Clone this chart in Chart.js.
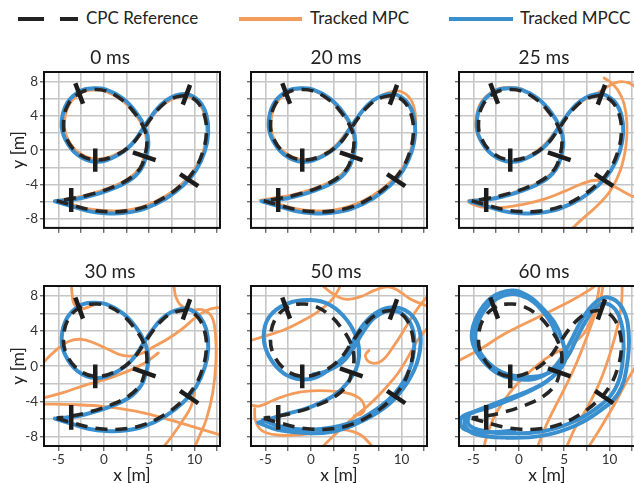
<!DOCTYPE html>
<html>
<head>
<meta charset="utf-8">
<script src="https://cdn.jsdelivr.net/npm/chart.js@4.4.1/dist/chart.umd.min.js"></script>
<style>
    html, body { margin: 0; padding: 0; background: #fff; overflow: hidden; }
    body { width: 634px; height: 483px; position: relative; font-family: Lato, "Open Sans", sans-serif; color: #222; }
    canvas { position: absolute; }
    .swatch { position: absolute; height: 4px; top: 17px; }
    .label { position: absolute; top: 7px; font-size: 17px; line-height: 22px; white-space: nowrap; }
</style>
</head>
<body>
<div class="swatch" style="left:18px;width:26px;background:#222"></div>
<div class="swatch" style="left:60px;width:18px;background:#222"></div>
<div class="label" style="left:86px">CPC Reference</div>
<div class="swatch" style="left:239px;width:63px;background:#f39c5b"></div>
<div class="label" style="left:310px">Tracked MPC</div>
<div class="swatch" style="left:449px;width:64px;background:#3a8fcf"></div>
<div class="label" style="left:520px">Tracked MPCC</div>
<script>
const FONT = "Lato, 'Open Sans', sans-serif";
const ORANGE = "#f39c5b";
const BLUE = "#3a8fcf";

// ---- data (x [m], y [m]) ----
const panelTitles = ["0 ms", "20 ms", "25 ms", "30 ms", "50 ms", "60 ms"];

const ref = [[-5.2,-5.9],[-3.5,-6.4],[-1.7,-6.9],[0.2,-7.15],[2.3,-7.1],[4.5,-6.6],[6.7,-5.5],[8.6,-4.0],[10.0,-2.3],[10.9,-0.2],[11.3,2.0],[11.1,4.0],[10.4,5.5],[9.4,6.25],[8.5,6.3],[7.4,5.95],[6.4,5.2],[5.4,4.0],[4.4,2.5],[3.1,0.7],[1.3,-0.6],[-0.9,-1.15],[-2.8,-0.4],[-4.1,1.3],[-4.45,3.2],[-3.9,5.4],[-2.5,6.75],[-1.2,7.05],[0.2,6.9],[2.0,5.85],[3.4,4.3],[4.4,2.6],[4.75,0.9],[4.5,-0.7],[4.0,-2.1],[2.7,-3.4],[0.5,-4.5],[-2.0,-5.3],[-3.9,-5.7],[-5.2,-5.9]];

const gates = [
    [[-3.6,-4.4],[-3.6,-7.2]],
    [[-0.95,0.2],[-0.95,-2.5]],
    [[3.2,-0.25],[5.7,-1.15]],
    [[8.4,-2.8],[10.4,-4.2]],
    [[9.5,7.6],[8.7,5.3]],
    [[-3.15,7.8],[-2.3,5.4]]
];

const mpccNear = [[-5.4,-5.95],[-3.5,-6.55],[-1.7,-7.1],[0.2,-7.35],[2.3,-7.3],[4.5,-6.8],[6.8,-5.65],[8.75,-4.1],[10.15,-2.35],[11.1,-0.2],[11.5,2.0],[11.3,4.1],[10.55,5.65],[9.45,6.45],[8.5,6.5],[7.35,6.1],[6.3,5.3],[5.3,4.05],[4.3,2.5],[3.0,0.6],[1.2,-0.75],[-0.9,-1.35],[-2.9,-0.55],[-4.25,1.25],[-4.65,3.2],[-4.05,5.5],[-2.6,6.9],[-1.2,7.2],[0.25,7.05],[2.1,6.0],[3.55,4.4],[4.55,2.6],[4.9,0.9],[4.65,-0.75],[4.1,-2.2],[2.8,-3.55],[0.55,-4.65],[-2.0,-5.45],[-3.9,-5.8],[-5.4,-5.95]];

const mpc0 = [[-5.3,-5.9],[-3.5,-6.35],[-1.7,-6.85],[0.2,-7.05],[2.3,-7.0],[4.5,-6.5],[6.7,-5.4],[8.6,-3.9],[10.0,-2.2],[10.95,-0.2],[11.35,2.0],[11.15,4.0],[10.45,5.5],[9.45,6.2],[8.5,6.25],[7.35,5.85],[6.3,5.05],[5.25,3.8],[4.2,2.3],[2.9,0.6],[1.1,-0.6],[-0.9,-1.05],[-2.75,-0.3],[-4.0,1.35],[-4.35,3.2],[-3.8,5.35],[-2.45,6.7],[-1.2,7.0],[0.2,6.85],[2.0,5.8],[3.4,4.25],[4.4,2.55],[4.7,0.9],[4.45,-0.7],[3.95,-2.05],[2.65,-3.35],[0.45,-4.45],[-2.0,-5.25],[-3.9,-5.65],[-5.3,-5.9]];

const mpc20 = [[-5.6,-5.85],[-3.5,-6.3],[-1.7,-6.8],[0.2,-7.05],[2.3,-7.0],[4.5,-6.45],[6.7,-5.35],[8.6,-3.85],[10.05,-2.1],[11.0,0.0],[11.5,2.2],[11.5,4.3],[11.0,5.9],[10.0,6.8],[8.8,6.8],[7.5,6.2],[6.3,5.2],[5.1,3.8],[4.0,2.2],[2.7,0.5],[1.0,-0.7],[-0.9,-1.1],[-2.75,-0.35],[-4.05,1.3],[-4.4,3.2],[-3.85,5.4],[-2.45,6.8],[-1.2,7.1],[0.25,6.95],[2.05,5.9],[3.45,4.35],[4.45,2.6],[4.8,0.9],[4.55,-0.7],[4.0,-2.1],[2.7,-3.35],[0.5,-4.4],[-2.0,-5.2],[-4.0,-5.55],[-5.6,-5.85]];

const mpc25a = [[9.3,6.6],[8.0,6.3],[6.6,5.4],[5.3,4.0],[4.1,2.3],[2.7,0.5],[0.9,-0.8],[-1.0,-1.3],[-3.0,-0.5],[-4.35,1.3],[-4.75,3.2],[-4.2,5.5],[-2.7,6.95],[-1.2,7.3],[0.3,7.1],[2.1,6.0],[3.5,4.4],[4.5,2.6],[4.85,0.9],[4.6,-0.75],[4.0,-2.2],[2.6,-3.5],[0.4,-4.6],[-2.0,-5.4],[-4.0,-5.75],[-5.6,-5.9],[-4.2,-6.6],[-2.0,-6.7],[0.5,-6.3],[2.8,-5.7],[5.0,-4.8],[7.0,-3.9],[8.5,-3.5],[9.9,-3.9],[11.3,-4.7],[12.4,-5.3],[13.2,-5.6]];
const mpc25b = [[7.4,6.0],[8.6,6.6],[9.8,7.4],[11.0,7.95],[12.2,7.8],[13.0,7.2]];
const mpc25c = [[5.6,-9.4],[7.0,-8.0],[8.6,-6.5],[10.1,-4.7],[11.2,-2.3],[11.8,0.5],[11.9,3.2],[11.6,5.4],[10.9,7.0],[10.1,7.9],[9.4,8.4]];

const mpc30a = [[-3.6,9.4],[-3.5,8.2],[-3.3,7.1],[-2.6,6.5],[-1.2,6.9]];
const mpc30b = [[7.7,9.4],[7.9,8.0],[8.5,6.9],[9.7,6.4],[10.9,6.4],[11.9,5.6],[12.3,3.6],[12.35,0.5],[12.0,-3.0],[11.3,-6.0],[10.5,-8.0],[9.9,-9.4]];
const mpc30c = [[-6.7,0.4],[-5.3,1.8],[-3.9,2.8],[-2.5,3.05],[-1.0,2.6],[0.5,1.9],[2.2,1.2],[3.8,1.3],[5.5,2.2],[7.2,3.2],[8.6,4.2],[10.2,5.6],[11.5,6.4],[12.9,6.7]];
const mpc30d = [[-6.7,-3.6],[-4.5,-3.0],[-2.2,-2.2],[0.2,-1.5],[2.3,-0.7],[4.4,0.3],[6.0,1.5]];
const mpc30e = [[-6.7,-4.3],[-3.5,-4.35],[0.4,-4.6],[3.5,-5.1],[5.9,-5.7],[9.6,-6.8],[12.9,-7.8]];
const mpc30f = [[6.4,-9.4],[7.6,-7.8],[8.8,-6.0],[9.6,-4.6],[10.0,-3.0]];

const mpcc50a = [[-5.8,-6.4],[-3.7,-7.2],[0.0,-7.6],[2.5,-7.4],[4.4,-6.8],[7.3,-5.3],[9.5,-3.4],[11.4,-0.4],[12.1,2.6],[11.7,4.9],[10.3,6.4],[8.4,6.6],[6.6,5.6],[5.1,3.7],[4.0,1.5],[2.5,0.0],[0.7,-1.2],[-1.0,-1.5],[-3.0,-0.8],[-4.6,1.1],[-5.2,3.35],[-4.6,5.6],[-2.6,7.1],[0.0,7.5],[2.2,6.9],[4.0,5.2],[5.1,3.0],[5.3,1.1],[4.75,-0.8],[2.9,-3.05],[0.0,-4.6],[-3.0,-5.5],[-5.8,-6.4]];
const mpcc50b = [[-5.3,-6.1],[-3.5,-6.8],[0.0,-7.2],[4.2,-6.5],[7.2,-4.9],[9.4,-2.9],[10.9,-0.3],[11.4,2.4],[11.1,4.6],[10.0,6.0],[8.6,6.3],[7.0,5.5],[5.7,3.8],[4.6,1.9],[3.4,0.4],[1.6,-0.6],[0.3,-0.9]];
const mpc50a = [[-6.7,2.9],[-4.8,3.5],[-3.0,4.1],[-1.0,5.1],[0.8,6.2],[2.2,7.4],[3.0,8.6],[3.3,9.4]];
const mpc50b = [[-6.7,-4.4],[-5.6,-4.5],[-4.0,-3.8],[-2.0,-3.1],[0.0,-2.8],[2.0,-2.8],[3.8,-3.0],[5.3,-3.6],[5.9,-4.6],[5.6,-5.4],[4.8,-5.6]];
const mpc50c = [[-6.2,-4.8],[-6.1,-6.2],[-5.4,-7.3],[-3.8,-7.8],[-1.5,-7.8],[1.0,-7.5],[3.4,-7.2],[5.5,-7.8],[7.0,-9.4]];
const mpc50d = [[1.0,-9.4],[2.6,-7.8],[4.5,-6.0],[6.6,-4.2],[8.3,-2.4],[9.6,-0.8],[10.8,1.2],[11.8,3.0],[12.9,4.4]];
const mpc50e = [[12.9,8.0],[11.8,6.6],[10.5,4.5],[9.2,2.4],[7.8,0.6],[6.6,0.4],[6.0,1.2],[6.4,1.8]];
const mpc50f = [[1.0,9.4],[2.3,8.3],[3.8,7.6],[5.5,7.9],[7.0,8.6],[8.5,9.0],[9.6,8.6],[11.0,7.6],[12.9,6.8]];

const mpcc60a = [[-5.9,-5.6],[-5.95,-6.75],[-4.8,-7.7],[-1.5,-8.1],[2.5,-7.9],[6.2,-6.75],[9.15,-4.9],[11.0,-3.0],[11.9,0.0],[12.1,3.8],[11.4,6.6],[9.9,7.8],[8.4,7.2],[6.95,5.3],[5.8,3.0],[4.6,0.8],[3.3,-0.7],[1.4,-1.5],[-1.1,-1.3],[-3.0,-0.35],[-4.6,1.5],[-5.2,3.4],[-4.6,5.7],[-3.0,7.8],[-0.8,8.6],[1.0,8.0],[2.4,6.8],[3.9,5.0],[4.75,3.05],[5.1,0.8],[4.3,-0.6],[2.8,-1.9],[0.6,-3.0],[-1.8,-3.9],[-4.3,-4.9],[-5.9,-5.6]];
const mpcc60b = [[-5.5,-5.5],[-5.6,-6.5],[-4.5,-7.2],[-1.5,-7.6],[2.5,-7.4],[6.0,-6.3],[8.9,-4.5],[10.6,-2.6],[11.4,0.2],[11.5,3.6],[10.9,6.0],[9.7,7.1],[8.5,6.7],[7.3,5.0],[6.3,3.0],[5.3,1.0],[3.8,-0.5],[1.6,-1.2],[-1.0,-1.0],[-2.8,-0.1],[-4.3,1.6],[-4.8,3.4],[-4.3,5.5],[-2.8,7.4],[-0.8,8.2],[1.0,7.7],[2.4,6.5],[3.6,4.8],[4.3,2.9]];
const mpcc60c = [[5.4,1.6],[4.8,0.1],[3.6,-1.3],[1.8,-2.5],[-0.5,-3.6],[-3.0,-4.6],[-5.3,-5.3],[-6.3,-5.8],[-6.4,-6.7],[-5.6,-7.3],[-3.5,-7.5],[-0.5,-7.3]];
const mpc60a = [[-6.7,0.6],[-4.0,2.1],[-1.7,3.6],[2.0,5.5],[5.7,7.4],[7.7,8.6],[8.6,9.3]];
const mpc60b = [[-3.9,-9.3],[-3.4,-7.5],[-2.5,-5.3],[-1.0,-3.0],[1.0,-0.8],[3.0,0.9],[5.2,2.2],[7.0,3.5],[8.0,5.5],[8.6,7.5],[8.9,9.3]];
const mpc60c = [[2.0,-9.3],[2.8,-7.2],[3.8,-5.0],[5.0,-2.6],[6.2,0.0],[7.3,2.8],[8.3,5.6],[9.0,7.6],[9.3,9.3]];
const mpc60d = [[5.2,-9.3],[6.2,-7.0],[7.6,-4.6],[9.0,-1.6],[10.1,1.6],[10.9,4.6],[11.3,7.0],[11.4,9.3]];
const mpc60e = [[7.6,-9.3],[9.0,-7.0],[10.6,-4.2],[12.0,-1.5],[13.2,0.5]];

const mpcTracks = [[mpc0], [mpc20], [mpc25a, mpc25b, mpc25c], [mpc30a, mpc30b, mpc30c, mpc30d, mpc30e, mpc30f], [mpc50a, mpc50b, mpc50c, mpc50d, mpc50e, mpc50f], [mpc60a, mpc60b, mpc60c, mpc60d, mpc60e]];
const mpccTracks = [[mpccNear], [mpccNear], [mpccNear], [mpccNear], [mpcc50a, mpcc50b], [mpcc60a, mpcc60b, mpcc60c]];

// ---- layout ----
const plotLefts = [44, 251, 459];
const plotTops = [72, 286];
const PLOT_W = 176, PLOT_H = 160, TITLE_H = 28, PAD_R = 2;

const toPts = (arr) => arr.map(([x, y]) => ({ x, y }));

const frame = {
    id: "frame",
    afterDraw: (chart) => {
        const { ctx, chartArea: a } = chart;
        ctx.save();
        ctx.strokeStyle = "#111";
        ctx.lineWidth = 2;
        ctx.strokeRect(a.left, a.top, a.right - a.left, a.bottom - a.top);
        ctx.restore();
    }
};

const trackSet = (points, color, width) => ({
    data: toPts(points),
    showLine: true,
    borderColor: color,
    borderWidth: width,
    pointRadius: 0,
    tension: 0.4,
    borderCapStyle: "round",
    borderJoinStyle: "round"
});

const makePanel = (idx) => {
    const col = idx % 3, row = Math.floor(idx / 3);
    const yW = col === 0 ? 44 : 6;
    const xH = row === 1 ? 40 : 6;
    const canvas = document.createElement("canvas");
    canvas.width = yW + PLOT_W + PAD_R;
    canvas.height = TITLE_H + PLOT_H + xH;
    canvas.style.left = (plotLefts[col] - yW) + "px";
    canvas.style.top = (plotTops[row] - TITLE_H) + "px";
    document.body.appendChild(canvas);

    const datasets = [];
    gates.forEach(g => datasets.push({ data: toPts(g), showLine: true, borderColor: "#1c1c1c", borderWidth: 4.5, pointRadius: 0 }));
    datasets.push({ data: toPts(ref), showLine: true, borderColor: "#262626", borderWidth: 3.6, borderDash: [12, 8], pointRadius: 0, tension: 0.4 });
    mpccTracks[idx].forEach(t => datasets.push(trackSet(t, BLUE, 4)));
    mpcTracks[idx].forEach(t => datasets.push(trackSet(t, ORANGE, 2.8)));

    new Chart(canvas, {
        type: "scatter",
        data: { datasets },
        options: {
            responsive: false,
            animation: false,
            layout: { padding: { left: 0, top: 0, right: PAD_R, bottom: 0 } },
            plugins: {
                legend: { display: false },
                tooltip: { enabled: false },
                title: {
                    display: true,
                    text: panelTitles[idx],
                    color: "#222",
                    font: { family: FONT, size: 19, weight: "normal", lineHeight: 1.2 },
                    padding: { top: 2, bottom: 3.2 }
                }
            },
            scales: {
                x: {
                    type: "linear",
                    min: -6.6,
                    max: 12.8,
                    border: { display: false },
                    grid: { color: "#c6c6c6", lineWidth: 1.6, tickLength: 5, tickColor: "#333", tickWidth: 1 },
                    ticks: {
                        stepSize: 2.5,
                        includeBounds: false,
                        autoSkip: false,
                        maxRotation: 0,
                        padding: 1,
                        color: "#333",
                        font: { family: FONT, size: 13.5 },
                        callback: (v) => (row === 1 && v % 5 === 0 ? String(v) : "")
                    },
                    title: {
                        display: row === 1,
                        text: "x [m]",
                        color: "#222",
                        font: { family: FONT, size: 17.5 },
                        padding: { top: 0, bottom: 0.5 }
                    },
                    afterFit: (s) => { s.height = xH; }
                },
                y: {
                    type: "linear",
                    min: -9.05,
                    max: 9.1,
                    border: { display: false },
                    grid: { color: "#c6c6c6", lineWidth: 1.6, tickLength: 4, tickColor: "#333", tickWidth: 1 },
                    ticks: {
                        stepSize: 2,
                        includeBounds: false,
                        autoSkip: false,
                        padding: 2,
                        color: "#333",
                        font: { family: FONT, size: 13.5 },
                        callback: (v) => (col === 0 && v % 4 === 0 ? String(v) : "")
                    },
                    title: {
                        display: col === 0,
                        text: "y [m]",
                        color: "#222",
                        font: { family: FONT, size: 17.5 },
                        padding: { top: 7.5, bottom: 0 }
                    },
                    afterFit: (s) => { s.width = yW; }
                }
            }
        },
        plugins: [frame]
    });
};

panelTitles.forEach((t, i) => makePanel(i));
</script>
</body>
</html>
